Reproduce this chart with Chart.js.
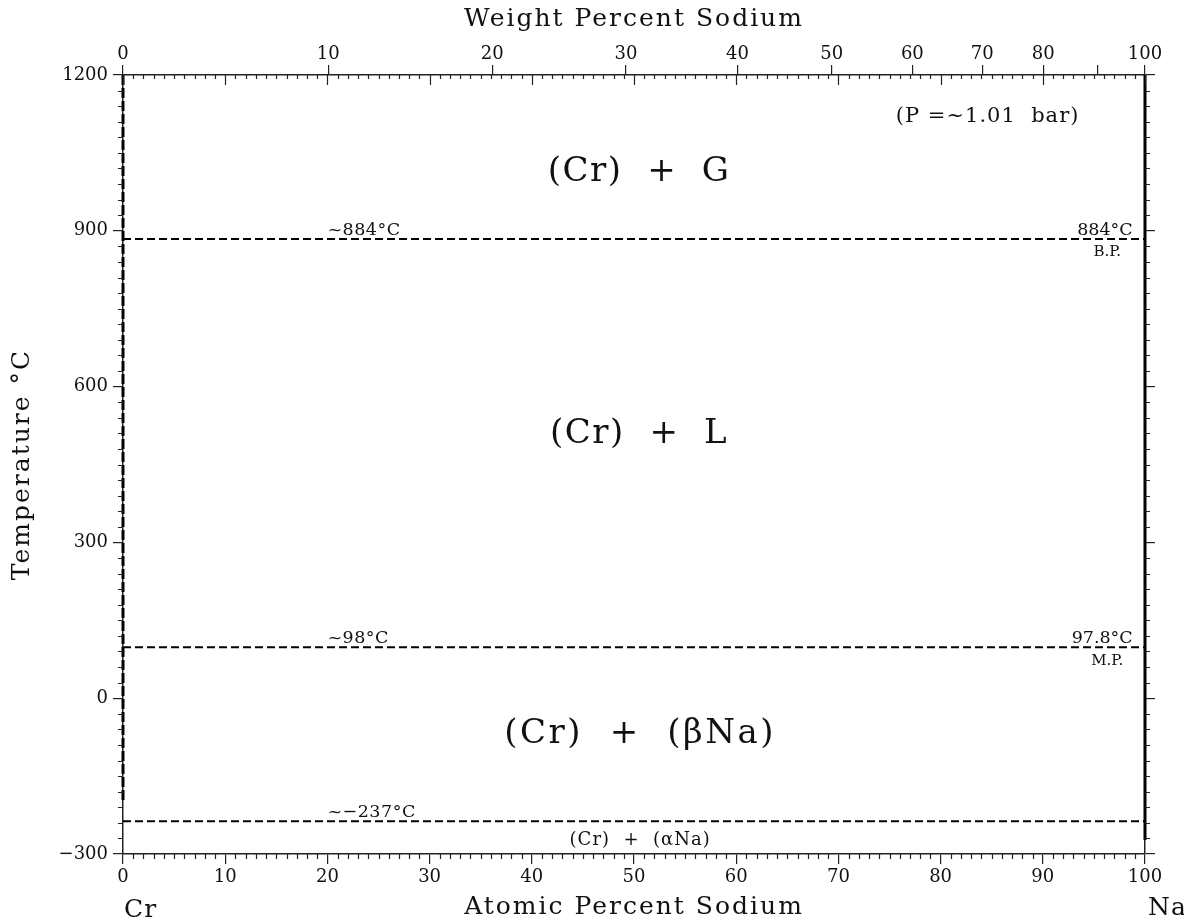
<!DOCTYPE html>
<html>
<head>
<meta charset="utf-8">
<title>Cr-Na phase diagram</title>
<script src="https://cdn.jsdelivr.net/npm/chart.js@4.4.1/dist/chart.umd.min.js"></script>
<style>
  html, body { margin: 0; padding: 0; background: #fff; }
  canvas { display: block; }
</style>
</head>
<body>
<canvas id="phaseChart" width="1184" height="924"></canvas>
<script>
// ── data ──────────────────────────────────────────────
const wtTicks   = [0, 10, 20, 30, 40, 50, 60, 70, 80, 90, 100];
const wtLabels  = ['0', '10', '20', '30', '40', '50', '60', '70', '80', '', '100'];

const boilLine  = [{ x: 0, y: 884 },  { x: 100, y: 884 }];
const meltLine  = [{ x: 0, y: 98 },   { x: 100, y: 98 }];
const lowLine   = [{ x: 0, y: -237 }, { x: 100, y: -237 }];
const crSide    = [{ x: 0, y: 1200 }, { x: 0, y: -200 }];
const naSide    = [{ x: 100, y: 1200 }, { x: 100, y: -273 }];

// atomic weights for the wt% -> at% top axis
const NA_WT = 22.99, CR_WT = 51.996;
const wtToAt = w => {
  const na = w / NA_WT, cr = (100 - w) / CR_WT;
  return 100 * na / (na + cr);
};

const FONT = "'DejaVu Serif', serif";
const INK  = '#111';

// ── annotation text (data coords + pixel nudge) ────────
const notes = [
  { text: '(Cr)  +  G',          x: 50.5, y: 1012, size: 34, sp: 1.5 },
  { text: '(Cr)  +  L',          x: 50.5, y: 508,  size: 34, sp: 1.5 },
  { text: '(Cr)  +  (\u03B2Na)', x: 50.6, y: -70,  size: 34, sp: 2.5 },
  { text: '(Cr)  +  (\u03B1Na)', x: 50.6, y: -273, size: 18, sp: 1 },
  { text: '(P =~1.01  bar)',     x: 84.6, y: 1120, size: 21, sp: 1 },
  { text: '~884\u00B0C',         x: 20,   y: 884,  size: 17.5, dy: -4, align: 'left',  base: 'alphabetic', sp: 0.5 },
  { text: '884\u00B0C',          x: 98.8, y: 884,  size: 17.5, dy: -4, align: 'right', base: 'alphabetic' },
  { text: 'B.P.',                x: 96.3, y: 884,  size: 15, dy: 13 },
  { text: '~98\u00B0C',          x: 20,   y: 98,   size: 17.5, dy: -4, align: 'left',  base: 'alphabetic', sp: 0.5 },
  { text: '97.8\u00B0C',         x: 98.8, y: 98,   size: 17.5, dy: -4, align: 'right', base: 'alphabetic' },
  { text: 'M.P.',                x: 96.3, y: 98,   size: 15, dy: 14 },
  { text: '~\u2212237\u00B0C',   x: 20,   y: -237, size: 17.5, dy: -4, align: 'left',  base: 'alphabetic', sp: 0.5 }
];

function drawText(ctx, s, px, py, size, align, base, spacing) {
  ctx.font = size + 'px ' + FONT;
  ctx.letterSpacing = (spacing || 0) + 'px';
  ctx.textAlign = align || 'center';
  ctx.textBaseline = base || 'middle';
  ctx.fillText(s, px, py);
}

// ── minor ticks, titles and labels ─────────────────────
const decor = {
  id: 'decor',
  afterDraw(chart) {
    const { ctx, chartArea: a, scales: { x, y } } = chart;
    ctx.save();
    ctx.strokeStyle = '#222';
    ctx.lineWidth = 1.2;
    ctx.beginPath();
    for (let i = 0; i <= 100; i++) {
      const px = Math.round(x.getPixelForValue(i)) + 0.5;
      if (i % 10) {
        ctx.moveTo(px, a.bottom); ctx.lineTo(px, a.bottom + 5);
      }
      ctx.moveTo(px, a.top); ctx.lineTo(px, a.top + (i % 10 ? 4 : 10));
    }
    for (let t = -300; t <= 1200; t += 30) {
      if (t % 300 === 0) continue;
      const py = Math.round(y.getPixelForValue(t)) + 0.5;
      ctx.moveTo(a.left - 5, py);  ctx.lineTo(a.left, py);
      ctx.moveTo(a.right, py);     ctx.lineTo(a.right + 5, py);
    }
    ctx.stroke();

    ctx.fillStyle = INK;
    notes.forEach(n => {
      drawText(ctx, n.text, x.getPixelForValue(n.x), y.getPixelForValue(n.y) + (n.dy || 0),
               n.size, n.align, n.base, n.sp);
    });

    // axis titles
    const cx = (a.left + a.right) / 2;
    drawText(ctx, 'Weight Percent Sodium', cx, 19, 25, 'center', 'middle', 2);
    drawText(ctx, 'Atomic Percent Sodium', cx, 907, 25, 'center', 'middle', 2);
    drawText(ctx, 'Cr', a.left + 1, 910, 25, 'left', 'middle', 1);
    drawText(ctx, 'Na', a.right + 3, 908, 25, 'left', 'middle', 1);
    ctx.save();
    ctx.translate(22, (a.top + a.bottom) / 2);
    ctx.rotate(-Math.PI / 2);
    drawText(ctx, 'Temperature \u00B0C', 0, 0, 25, 'center', 'middle', 2);
    ctx.restore();

    ctx.restore();
  }
};

const tickFont = { family: FONT, size: 18 };
const gridOpts = { drawOnChartArea: false, tickLength: 10, color: '#222', lineWidth: 1.2 };
const borderOpts = { color: '#222', width: 1.5 };
const plainNum = v => (v < 0 ? '\u2212' + Math.abs(v) : String(v));

new Chart(document.getElementById('phaseChart'), {
  type: 'scatter',
  data: {
    datasets: [
      { data: boilLine, borderDash: [8, 4] },
      { data: meltLine, borderDash: [8, 4] },
      { data: lowLine,  borderDash: [8, 4] },
      { data: crSide,   borderDash: [10, 3], borderWidth: 3 },
      { data: naSide,   borderWidth: 3 }
    ].map(d => Object.assign({
      showLine: true, borderColor: '#000', borderWidth: 2,
      pointRadius: 0, clip: false
    }, d))
  },
  options: {
    responsive: false,
    animation: false,
    devicePixelRatio: 1,
    layout: { padding: 0 },
    plugins: { legend: { display: false }, tooltip: { enabled: false } },
    scales: {
      x: {
        type: 'linear', position: 'bottom', min: 0, max: 100,
        ticks: { stepSize: 10, font: tickFont, color: INK, padding: 3, maxRotation: 0, autoSkip: false,
                 callback: plainNum },
        grid: gridOpts, border: borderOpts,
        afterFit: s => { s.height = 70; }
      },
      x2: {
        type: 'linear', position: 'top', min: 0, max: 100,
        afterBuildTicks: s => { s.ticks = wtTicks.map(w => ({ value: wtToAt(w) })); },
        ticks: { font: tickFont, color: INK, padding: 0, maxRotation: 0, autoSkip: false,
                 callback: (v, i) => wtLabels[i] },
        grid: gridOpts, border: borderOpts,
        afterFit: s => { s.height = 75; }
      },
      y: {
        type: 'linear', position: 'left', min: -300, max: 1200,
        ticks: { stepSize: 300, font: tickFont, color: INK, padding: 5, autoSkip: false,
                 callback: plainNum },
        grid: gridOpts, border: borderOpts,
        afterFit: s => { s.width = 123; }
      },
      y2: {
        type: 'linear', position: 'right', min: -300, max: 1200,
        ticks: { stepSize: 300, display: false },
        grid: gridOpts, border: borderOpts,
        afterFit: s => { s.width = 39; }
      }
    }
  },
  plugins: [decor]
});
</script>
</body>
</html>
